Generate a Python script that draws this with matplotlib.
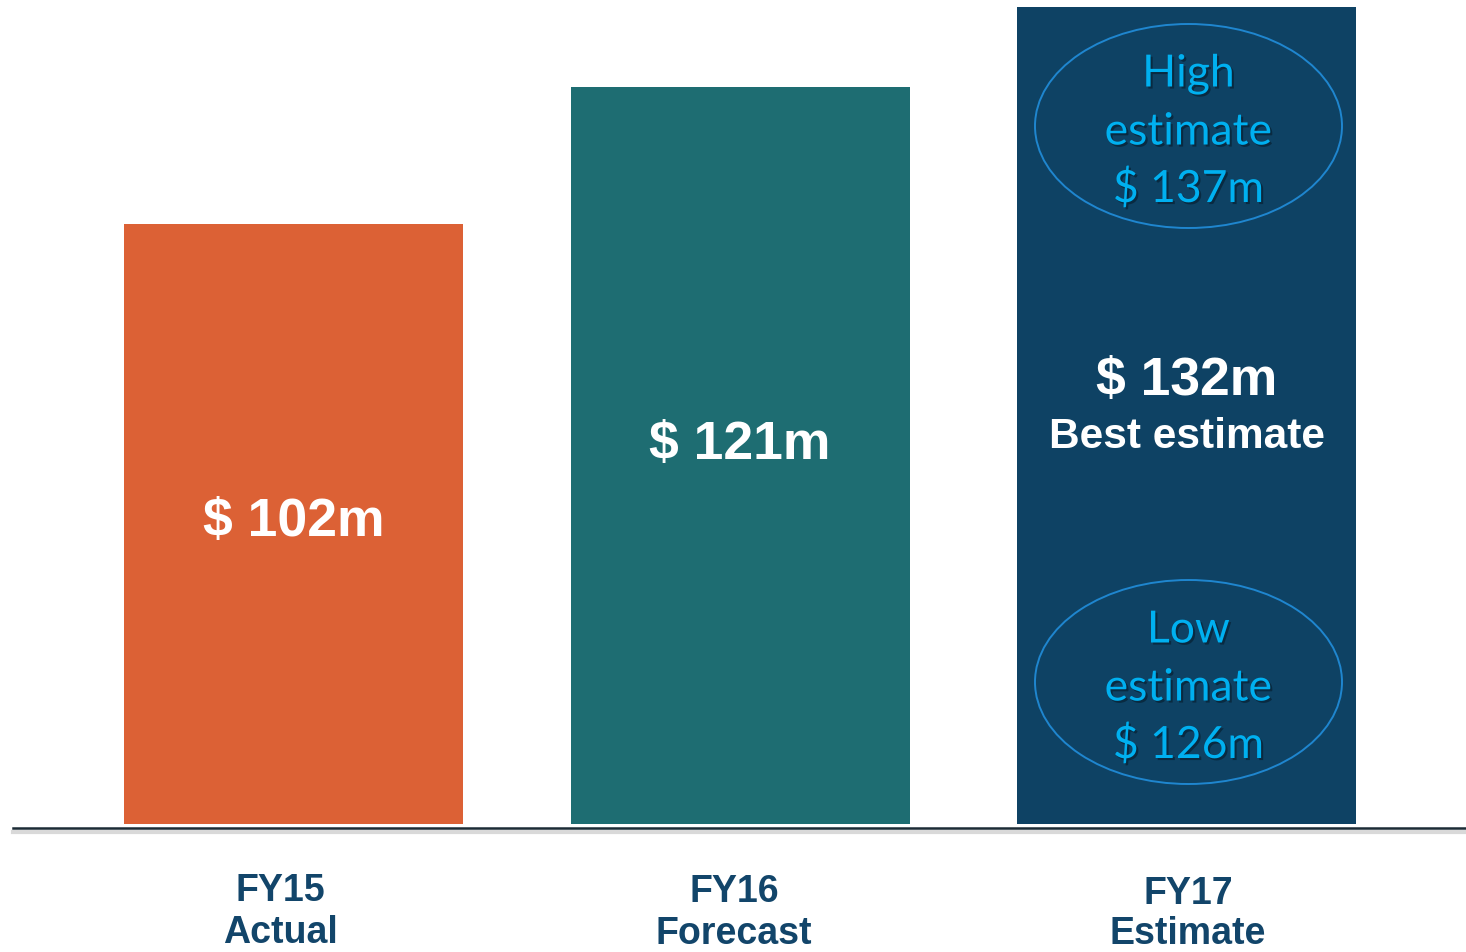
import matplotlib
matplotlib.use("Agg")
import matplotlib.pyplot as plt
from matplotlib.patches import Ellipse
from matplotlib.lines import Line2D
import matplotlib.patheffects as pe
from matplotlib.transforms import blended_transform_factory

# ---- data ----
categories = ["FY15", "FY16", "FY17"]
subtitles = ["Actual", "Forecast", "Estimate"]
values = [102, 121, 132]
value_labels = ["$ 102m", "$ 121m", "$ 132m"]
high_estimate = 137
low_estimate = 126
bar_colors = ["#DC6135", "#1E6D72", "#0E4264"]

W, H = 1466, 953
fig = plt.figure(figsize=(W / 100, H / 100), dpi=100)
fig.patch.set_facecolor("white")

# axes: bottom at baseline pixel 825, top at pixel 0
ax = fig.add_axes([0, 1 - 825 / H, 1, 825 / H])
ax.set_facecolor("white")
for s in ax.spines.values():
    s.set_visible(False)
ax.set_xticks([])
ax.set_yticks([])

xpos = list(range(len(categories)))
ax.bar(xpos, values, width=0.759, color=bar_colors, bottom=0, zorder=2)
ax.set_xlim(-0.6577, 2.6256)
ax.set_ylim(19.1, 133.1)


def fig_y(py):
    return 1 - py / H


trans = blended_transform_factory(ax.transData, fig.transFigure)
font_b = ["Liberation Sans", "DejaVu Sans"]

# value labels inside bars
ax.text(0, fig_y(522), value_labels[0], transform=trans, ha="center", va="center",
        fontsize=38.5, fontweight="bold", color="white", family=font_b)
ax.text(1, fig_y(445), value_labels[1], transform=trans, ha="center", va="center",
        fontsize=38.5, fontweight="bold", color="white", family=font_b)
ax.text(2, fig_y(381), value_labels[2], transform=trans, ha="center", va="center",
        fontsize=38.5, fontweight="bold", color="white", family=font_b)
ax.text(2, fig_y(437), "Best estimate", transform=trans, ha="center", va="center",
        fontsize=30.5, fontweight="bold", color="white", family=font_b)

# ellipses with high / low estimates
ell_color = "#1F86CF"
txt_color = "#00B0F0"
shadow = [pe.SimplePatchShadow(offset=(1.5, -1.5), shadow_rgbFace="black", alpha=0.35), pe.Normal()]
for cy_px, word, val in [(127, "High", high_estimate), (683, "Low", low_estimate)]:
    xc_px = 1188.5
    e = Ellipse((xc_px / W, fig_y(cy_px)), 307 / W, 204 / H, transform=fig.transFigure,
                facecolor="none", edgecolor=ell_color, lw=1.4, zorder=3)
    fig.patches.append(e)
    for dy, s in [(-52, word), (6, "estimate"), (63, f"$ {val}m")]:
        fig.text(xc_px / W, fig_y(cy_px + dy), s, ha="center", va="center",
                 fontsize=32, color=txt_color, family=["Lato", "Open Sans", "DejaVu Sans"],
                 path_effects=shadow, zorder=4)

# baseline with subtle shadow
fig.lines.append(Line2D([13 / W, 1], [fig_y(833), fig_y(833)], transform=fig.transFigure,
                        color="#d9d9d9", lw=3.0, zorder=1))
fig.lines.append(Line2D([13 / W, 1], [fig_y(829), fig_y(829)], transform=fig.transFigure,
                        color="#1B2B35", lw=1.8, zorder=5))

# category labels (baselines in pixels)
label_color = "#12456A"
label_x = [280, 734, 1188]
label_y1 = [901, 902, 904]
label_y2 = [943, 944, 944]
for lx, y1, y2, c, sub in zip(label_x, label_y1, label_y2, categories, subtitles):
    fig.text(lx / W, fig_y(y1), c, ha="center", va="baseline", fontsize=27,
             fontweight="bold", color=label_color, family=font_b)
    fig.text(lx / W, fig_y(y2), sub, ha="center", va="baseline", fontsize=27,
             fontweight="bold", color=label_color, family=font_b)

fig.savefig("out.png", dpi=100, facecolor="white")
